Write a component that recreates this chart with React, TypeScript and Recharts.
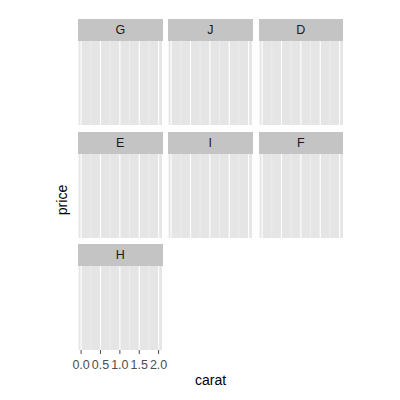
import React from 'react'
import { ScatterChart, Scatter, XAxis, YAxis, CartesianGrid } from 'recharts'

// facet labels in panel order (left to right, top to bottom)
const facets = ['G', 'J', 'D', 'E', 'I', 'F', 'H']
const caratMajor = [0, 0.5, 1, 1.5, 2]
const caratMinor = [0.25, 0.75, 1.25, 1.75]
const caratTickLabels = ['0.0', '0.5', '1.0', '1.5', '2.0']
const caratDomain = [-0.08, 2.1]
// no points in any facet
const points: { carat: number; price: number }[] = []

const FONT = '"Liberation Sans", Arial, Helvetica, sans-serif'
const COLS = [78, 168, 258.5]
const ROWS = [19, 132, 244]
const PANEL_W = 84.5
const STRIP_H = 22
const PANEL_H = 84
const AXIS_H = 24

interface PanelProps {
  label: string
  left: number
  top: number
  showAxis: boolean
}

const Panel: React.FC<PanelProps> = ({ label, left, top, showAxis }) => {
  return (
    <div style={{ position: 'absolute', left, top, width: PANEL_W }}>
      {/* strip */}
      <div
        style={{
          height: STRIP_H,
          lineHeight: `${STRIP_H}px`,
          background: '#C4C4C4',
          textAlign: 'center',
          fontSize: 12.5,
          color: '#1a1a1a',
        }}
      >
        {label}
      </div>
      <ScatterChart
        width={PANEL_W}
        height={PANEL_H + (showAxis ? AXIS_H : 0)}
        margin={{ top: 0, right: 0, bottom: 0, left: 0 }}
      >
        <CartesianGrid xAxisId="minor" horizontal={false} fill="#E5E5E5" stroke="#F2F2F2" strokeWidth={0.6} />
        <CartesianGrid xAxisId="major" horizontal={false} stroke="#FFFFFF" strokeWidth={1.1} />
        <XAxis
          xAxisId="minor"
          type="number"
          dataKey="carat"
          domain={caratDomain}
          allowDataOverflow
          ticks={caratMinor}
          interval={0}
          hide
        />
        <XAxis
          xAxisId="major"
          type="number"
          dataKey="carat"
          domain={caratDomain}
          allowDataOverflow
          ticks={caratMajor}
          interval={0}
          hide={!showAxis}
          height={AXIS_H}
          axisLine={false}
          tick={{ fill: '#4D4D4D', fontSize: 12.5, fontFamily: FONT }}
          tickLine={{ stroke: '#4D4D4D' }}
          tickSize={4}
          tickMargin={6}
          tickFormatter={(v: number) => caratTickLabels[caratMajor.indexOf(v)] ?? ''}
        />
        <YAxis type="number" dataKey="price" domain={[0, 1]} allowDataOverflow hide />
        <Scatter xAxisId="major" data={points} fill="#000" isAnimationActive={false} />
        <Scatter xAxisId="minor" data={points} fill="#000" isAnimationActive={false} />
      </ScatterChart>
    </div>
  )
}

export default function App() {
  return (
    <div
      style={{
        position: 'absolute',
        left: 0,
        top: 0,
        width: 400,
        height: 400,
        background: '#fff',
        fontFamily: FONT,
        overflow: 'hidden',
      }}
    >
      <style>{'.recharts-surface{overflow:visible}'}</style>
      {facets.map((f, i) => {
        const row = Math.floor(i / 3)
        const col = i % 3
        const lastInCol = i + 3 >= facets.length
        return (
          <Panel
            key={f}
            label={f}
            left={COLS[col]}
            top={ROWS[row]}
            showAxis={lastInCol && col === 0}
          />
        )
      })}
      <div
        style={{
          position: 'absolute',
          left: 62,
          top: 200,
          transform: 'translate(-50%, -50%) rotate(-90deg)',
          whiteSpace: 'nowrap',
          fontSize: 14,
          color: '#000',
        }}
      >
        price
      </div>
      <div
        style={{
          position: 'absolute',
          left: 78,
          width: 265,
          top: 373,
          textAlign: 'center',
          fontSize: 14,
          lineHeight: '14px',
          color: '#000',
        }}
      >
        carat
      </div>
    </div>
  )
}
